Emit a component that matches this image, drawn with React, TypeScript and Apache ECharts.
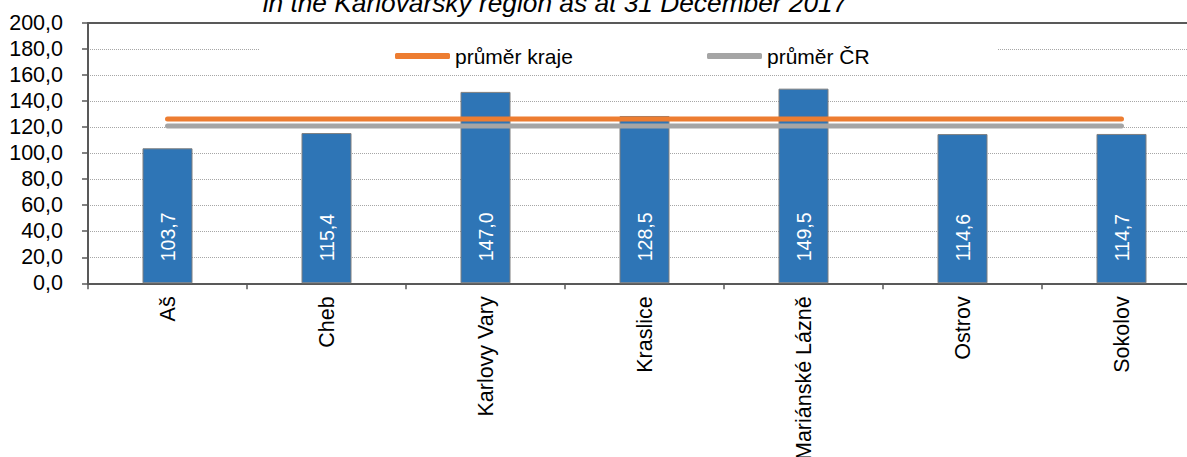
import React, { useEffect, useRef } from "react";
import * as echarts from "echarts";

const categories = ["Aš", "Cheb", "Karlovy Vary", "Kraslice", "Mariánské Lázně", "Ostrov", "Sokolov"];
const values = [103.7, 115.4, 147.0, 128.5, 149.5, 114.6, 114.7];
const regionAvg = [126.2, 126.2, 126.2, 126.2, 126.2, 126.2, 126.2];
const czAvg = [120.8, 120.8, 120.8, 120.8, 120.8, 120.8, 120.8];
const titleText = "in the Karlovarský region as at 31 December 2017";
const legendRegion = "průměr kraje";
const legendCZ = "průměr ČR";

const FONT = "'Liberation Sans', Arial, sans-serif";
const fmt = (v: number) => v.toFixed(1).replace(".", ",");

export default function App() {
  const ref = useRef<HTMLDivElement>(null);
  useEffect(() => {
    if (!ref.current) return;
    const chart = echarts.init(ref.current, null, { renderer: "svg" });
    chart.setOption({
      animation: false,
      backgroundColor: "#ffffff",
      textStyle: { fontFamily: FONT },
      grid: {
        left: 88,
        top: 22.9,
        height: 260.4,
        width: 1113,
        containLabel: false,
        outerBoundsMode: "none",
      },
      graphic: [
        {
          type: "rect",
          z: 1,
          shape: { x: 260, y: 38, width: 738, height: 30 },
          style: { fill: "#ffffff" },
        },
        {
          type: "text",
          z: 5,
          x: 555,
          y: 3,
          style: {
            text: titleText,
            font: `italic 26.3px ${FONT}`,
            fill: "#000000",
            textAlign: "center",
            textVerticalAlign: "middle",
          },
        },
      ],
      legend: [
        {
          data: [legendRegion],
          left: 395,
          top: 45.5,
          padding: 0,
          itemWidth: 55,
          itemHeight: 6,
          icon: "roundRect",
          textStyle: { fontSize: 21, color: "#000", fontFamily: FONT },
          z: 5,
        },
        {
          data: [legendCZ],
          left: 707,
          top: 45.5,
          padding: 0,
          itemWidth: 55,
          itemHeight: 6,
          icon: "roundRect",
          textStyle: { fontSize: 21, color: "#000", fontFamily: FONT },
          z: 5,
        },
      ],
      xAxis: [
        {
          type: "category",
          data: categories,
          position: "bottom",
          axisLine: { show: true, lineStyle: { color: "#595959", width: 2 } },
          axisTick: { show: true, length: 6, lineStyle: { color: "#595959", width: 1.5 } },
          axisLabel: {
            rotate: 90,
            interval: 0,
            margin: 13,
            fontSize: 21.5,
            color: "#000",
            fontFamily: FONT,
          },
          splitLine: { show: false },
        },
        {
          type: "category",
          data: categories,
          position: "top",
          axisLine: { show: true, lineStyle: { color: "#595959", width: 2 } },
          axisTick: { show: false },
          axisLabel: { show: false },
          splitLine: { show: false },
        },
      ],
      yAxis: {
        type: "value",
        min: 0,
        max: 200,
        interval: 20,
        axisLine: { show: true, lineStyle: { color: "#595959", width: 2 } },
        axisTick: { show: true, length: 6, lineStyle: { color: "#595959", width: 1.5 } },
        axisLabel: {
          formatter: (v: number) => fmt(v),
          fontSize: 21.5,
          color: "#000",
          margin: 25,
          fontFamily: FONT,
        },
        splitLine: { show: true, lineStyle: { color: "#a6a6a6", type: "dotted", width: 1 } },
      },
      series: [
        {
          type: "bar",
          data: values,
          barWidth: 50,
          z: 2,
          itemStyle: { color: "#2E75B6", borderColor: "#7f7f7f", borderWidth: 1 },
          label: {
            show: true,
            position: "insideBottom",
            distance: 22,
            rotate: 90,
            align: "left",
            verticalAlign: "middle",
            color: "#ffffff",
            fontSize: 19.5,
            fontFamily: FONT,
            formatter: (p: any) => fmt(p.value),
          },
        },
        {
          name: legendRegion,
          type: "line",
          data: regionAvg,
          z: 3,
          symbol: "none",
          showSymbol: false,
          lineStyle: { color: "#ED7D31", width: 5, cap: "round" },
          itemStyle: { color: "#ED7D31" },
        },
        {
          name: legendCZ,
          type: "line",
          data: czAvg,
          z: 3,
          symbol: "none",
          showSymbol: false,
          lineStyle: { color: "#A5A5A5", width: 5, cap: "round" },
          itemStyle: { color: "#A5A5A5" },
        },
      ],
    });
    return () => chart.dispose();
  }, []);
  return (
    <div
      ref={ref}
      style={{ position: "fixed", left: 0, top: 0, width: 1187, height: 457 }}
    />
  );
}
